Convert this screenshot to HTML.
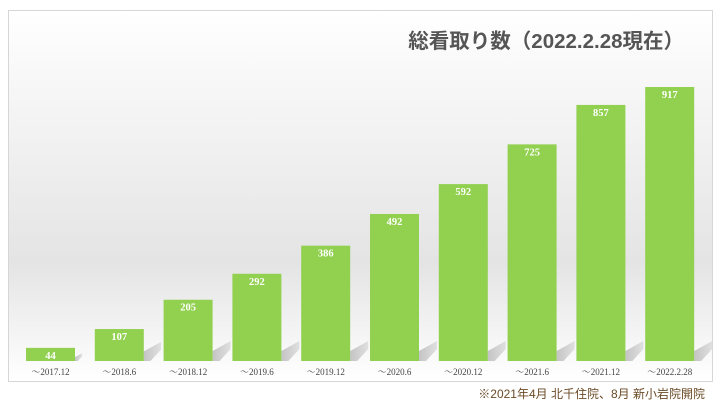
<!DOCTYPE html>
<html><head><meta charset="utf-8"><style>
html,body{margin:0;padding:0;background:#fff;}
body{width:720px;height:405px;position:relative;overflow:hidden;font-family:"Liberation Sans","Noto Sans CJK JP",sans-serif;}
</style></head><body>
<svg id="chart" width="720" height="405" xmlns="http://www.w3.org/2000/svg">
<defs>
<linearGradient id="bg" x1="0" y1="0" x2="0" y2="1">
<stop offset="0" stop-color="#ffffff"/><stop offset="0.68" stop-color="#e4e4e4"/><stop offset="1" stop-color="#ffffff"/>
</linearGradient>
<linearGradient id="sh" x1="0" y1="0" x2="1" y2="0">
<stop offset="0" stop-color="#c4c4c4"/><stop offset="1" stop-color="#e0e0e0"/>
</linearGradient>
</defs>
<rect x="8.5" y="10.5" width="704" height="371" fill="url(#bg)" stroke="#d6d6d6"/>
<text x="684" y="48" text-anchor="end" font-size="20.5" font-weight="bold" fill="#555" font-family="'Liberation Sans','Noto Sans CJK JP',sans-serif">総看取り数（2022.2.28現在）</text>
<g id="bars"></g>
<text x="705" y="398" text-anchor="end" font-size="12" fill="#6b4a26" font-family="'Liberation Sans','Noto Sans CJK JP',sans-serif">※2021年4月 北千住院、8月 新小岩院開院</text>
</svg>
<script>
const categories=["～2017.12","～2018.6","～2018.12","～2019.6","～2019.12","～2020.6","～2020.12","～2021.6","～2021.12","～2022.2.28"];
const values=[44,107,205,292,386,492,592,725,857,917];
const NS="http://www.w3.org/2000/svg";
const g=document.getElementById('bars');
const base=361, pxPer=274/917, x0=50.5, step=68.8, bw=49;
function yS(v){return base-v*pxPer;}
function xS(i){return x0+i*step;}
values.forEach((v,i)=>{
  const cx=xS(i), top=yS(v);
  const sh=document.createElementNS(NS,'polygon');
  
  
  const h=Math.min(20,(base-top)*0.6);
  const rx=cx+bw/2;
  sh.setAttribute('points',`${rx},${base} ${rx},${base-h*0.5} ${rx+h*0.9},${base-h} ${rx+h*0.9},${base-h*0.6} ${rx+h*0.35},${base}`);
  sh.setAttribute('fill','url(#sh)');
  g.appendChild(sh);
  const r=document.createElementNS(NS,'rect');
  
  
  r.setAttribute('x',cx-bw/2);r.setAttribute('y',top);
  r.setAttribute('width',bw);r.setAttribute('height',base-top);
  r.setAttribute('fill','#92d050');
  g.appendChild(r);
  const t=document.createElementNS(NS,'text');
  
  
  t.setAttribute('x',cx);t.setAttribute('y',top+11);
  t.setAttribute('text-anchor','middle');t.setAttribute('font-size','10.5');
  t.setAttribute('font-weight','bold');t.setAttribute('fill','#fff');
  t.setAttribute('font-family',"'Liberation Serif',serif");
  t.textContent=v;g.appendChild(t);
  const c=document.createElementNS(NS,'text');
  
  
  c.setAttribute('x',cx);c.setAttribute('y',375);
  c.setAttribute('text-anchor','middle');c.setAttribute('font-size','9');
  c.setAttribute('fill','#444');
  c.setAttribute('font-family',"'Liberation Serif','Noto Serif CJK SC',serif");
  c.textContent=categories[i];g.appendChild(c);
});
</script>
</body></html>
